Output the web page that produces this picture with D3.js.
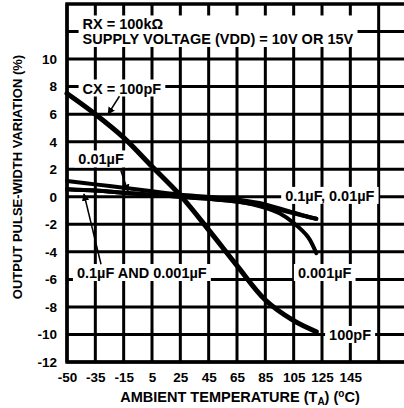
<!DOCTYPE html>
<html>
<head>
<meta charset="utf-8">
<script src="https://cdn.jsdelivr.net/npm/d3@7"></script>
<style>
    body { margin: 0; background: #fff; }
    text { font-family: "Liberation Sans", Arial, sans-serif; font-weight: bold; fill: #000; }
</style>
</head>
<body>
<div id="myChart"></div>
<script>
//Tick values and labels (first label printed as -50 on the original sheet)
var xTicks = [-55, -35, -15, 5, 25, 45, 65, 85, 105, 125, 145];
var xTickLabels = ["-50", "-35", "-15", "5", "25", "45", "65", "85", "105", "125", "145"];
var xGrid = [-55, -35, -15, 5, 25, 45, 65, 85, 105, 125, 145, 165];
var yTicks = [-12, -10, -8, -6, -4, -2, 0, 2, 4, 6, 8, 10];
var yGrid = [-12, -10, -8, -6, -4, -2, 0, 2, 4, 6, 8, 10, 12];

//Curves
var temps100pF = [-55, -35, -15, 5, 25, 45, 65, 85, 105, 121];
var var100pF = [7.5, 6.0, 4.3, 2.2, 0.1, -2.4, -5.0, -7.5, -9.0, -9.8];

var tempsBand = [-55, -35, -15, 5, 25, 45, 65, 85, 95, 105, 115, 121];
var var001uF = [1.15, 0.9, 0.65, 0.4, 0.15, 0, -0.2, -0.55, -0.85, -1.15, -1.45, -1.6];
var var01uF = [0.55, 0.45, 0.3, 0.15, 0, -0.15, -0.35, -0.7, -0.95, -1.2, -1.45, -1.6];
var var0001uF = [0.55, 0.45, 0.3, 0.15, 0, -0.15, -0.35, -0.8, -1.2, -1.9, -2.9, -4.1];

var margin = { top: 4, left: 67 },
    width = 340,
    height = 358;

var x = d3.scaleLinear().domain([-55, 185]).range([0, width]);
var y = d3.scaleLinear().domain([-12, 14]).range([height, 0]);

var svg = d3.select("#myChart")
    .append("svg")
    .attr("width", 404)
    .attr("height", 408);

var g = svg.append("g")
    .attr("transform", "translate(" + margin.left + "," + margin.top + ")");

//Grid lines
g.append("g")
    .selectAll("line")
    .data(xGrid)
    .enter().append("line")
    .attr("x1", function (d) { return x(d); })
    .attr("x2", function (d) { return x(d); })
    .attr("y1", 0)
    .attr("y2", height)
    .attr("stroke", "#000")
    .attr("stroke-width", 3);

g.append("g")
    .selectAll("line")
    .data(yGrid)
    .enter().append("line")
    .attr("x1", 0)
    .attr("x2", width)
    .attr("y1", function (d) { return y(d); })
    .attr("y2", function (d) { return y(d); })
    .attr("stroke", "#000")
    .attr("stroke-width", 3);

//Frame
g.append("rect")
    .attr("width", width)
    .attr("height", height)
    .attr("fill", "none")
    .attr("stroke", "#000")
    .attr("stroke-width", 3.5);

//Labels with white boxes behind them
var boxes = g.append("g");
var labels = g.append("g");

function addLabel(lines, tx, ty, anchor) {
    var t = labels.append("text")
        .attr("x", x(tx))
        .attr("y", y(ty))
        .attr("text-anchor", anchor || "start")
        .style("font-size", "14.5px");
    lines.forEach(function (s, i) {
        t.append("tspan")
            .attr("x", x(tx))
            .attr("dy", i === 0 ? 0 : "1em")
            .text(s);
    });
    var b = t.node().getBBox();
    boxes.append("rect")
        .attr("x", b.x - 4)
        .attr("y", b.y - 1)
        .attr("width", b.width + 8)
        .attr("height", b.height + 1)
        .attr("fill", "#fff");
}

addLabel(["RX = 100k\u03A9", "SUPPLY VOLTAGE (VDD) = 10V OR 15V"], -44, 12.15);
addLabel(["CX = 100pF"], -44, 7.5);
addLabel(["0.01\u00B5F"], -47, 2.35);
addLabel(["0.1\u00B5F, 0.01\u00B5F"], 99, -0.3);
addLabel(["0.1\u00B5F AND 0.001\u00B5F"], -48, -5.9);
addLabel(["0.001\u00B5F"], 108, -5.9);
addLabel(["100pF"], 130, -10.4);

//Curves
var line = d3.line()
    .x(function (d) { return x(d[0]); })
    .y(function (d) { return y(d[1]); })
    .curve(d3.curveCatmullRom.alpha(0.5));

function zip(a, b) { return a.map(function (v, i) { return [v, b[i]]; }); }

var curves = g.insert("g", function () { return labels.node(); });

[var001uF, var01uF, var0001uF].forEach(function (vals) {
    curves.append("path")
        .datum(zip(tempsBand, vals))
        .attr("d", line)
        .attr("fill", "none")
        .attr("stroke", "#000")
        .attr("stroke-width", 4)
        .attr("stroke-linecap", "round");
});

curves.append("path")
    .datum(zip(temps100pF, var100pF))
    .attr("d", line)
    .attr("fill", "none")
    .attr("stroke", "#000")
    .attr("stroke-width", 5)
    .attr("stroke-linecap", "round");

//Pointer arrows
svg.append("defs").append("marker")
    .attr("id", "arrow")
    .attr("viewBox", "0 0 10 10")
    .attr("refX", 9)
    .attr("refY", 5)
    .attr("markerWidth", 5)
    .attr("markerHeight", 5)
    .attr("orient", "auto")
    .append("path")
    .attr("d", "M0,0L10,5L0,10z")
    .attr("fill", "#000");

var pointers = [
    [[-18, 7.3], [-26, 6.0]],
    [[-17, 1.9], [-12, 0.4]],
    [[-31, -4.9], [-43, 0.2]]
];
pointers.forEach(function (p) {
    g.append("line")
        .attr("x1", x(p[0][0])).attr("y1", y(p[0][1]))
        .attr("x2", x(p[1][0])).attr("y2", y(p[1][1]))
        .attr("stroke", "#000")
        .attr("stroke-width", 1.5)
        .attr("marker-end", "url(#arrow)");
});

//Axes labels
var yAxis = g.append("g")
    .call(d3.axisLeft(y).tickValues(yTicks).tickSize(0).tickPadding(10)
        .tickFormat(function (d) { return String(d); }));
yAxis.select(".domain").remove();
yAxis.selectAll("text")
    .style("font-size", "13.5px")
    .style("font-family", "Liberation Sans, Arial, sans-serif");

var xAxis = g.append("g")
    .attr("transform", "translate(0," + height + ")")
    .call(d3.axisBottom(x).tickValues(xTicks).tickSize(0).tickPadding(10)
        .tickFormat(function (d, i) { return xTickLabels[i]; }));
xAxis.select(".domain").remove();
xAxis.selectAll("text")
    .style("font-size", "13.5px")
    .style("font-family", "Liberation Sans, Arial, sans-serif");

//Axis titles
var xTitle = svg.append("text")
    .attr("x", 240)
    .attr("y", 402)
    .attr("text-anchor", "middle")
    .style("font-size", "14.5px");
xTitle.append("tspan").text("AMBIENT TEMPERATURE (T");
xTitle.append("tspan").attr("dy", 3).style("font-size", "10px").text("A");
xTitle.append("tspan").attr("dy", -3).text(") (");
xTitle.append("tspan").attr("dy", -5).style("font-size", "10px").text("o");
xTitle.append("tspan").attr("dy", 5).text("C)");

svg.append("text")
    .attr("transform", "translate(22,177) rotate(-90)")
    .attr("text-anchor", "middle")
    .style("font-size", "13px")
    .text("OUTPUT PULSE-WIDTH VARIATION (%)");
</script>
</body>
</html>
